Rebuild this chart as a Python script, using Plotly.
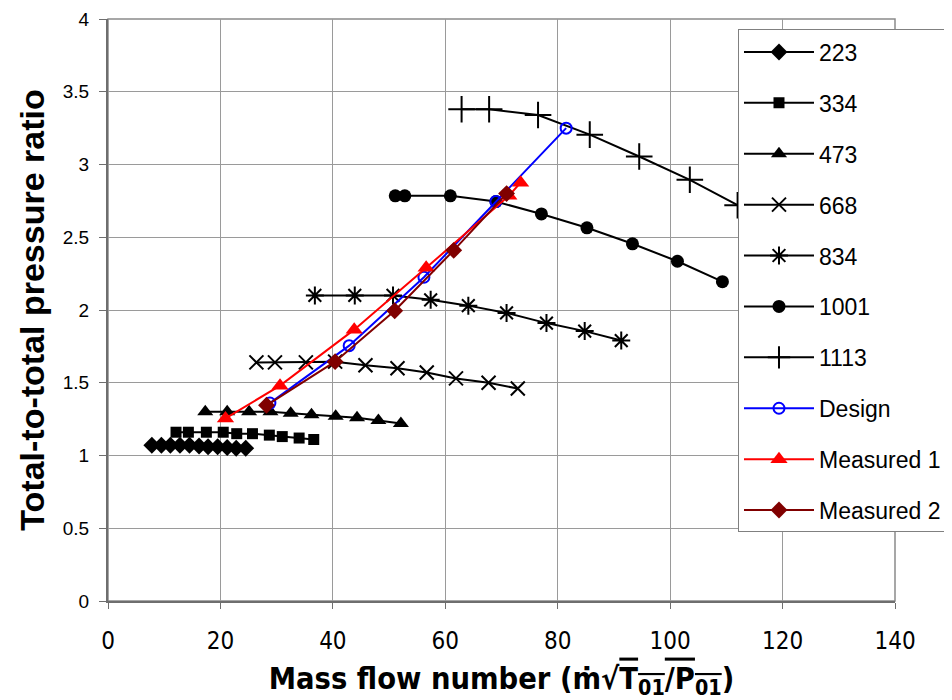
import plotly.graph_objects as go

# ---- data ----
x_223 = [7.8, 9.5, 11.1, 12.8, 14.5, 16.2, 17.8, 19.5, 21.2, 22.8, 24.5]
y_223 = [1.07, 1.07, 1.07, 1.07, 1.07, 1.065, 1.06, 1.06, 1.055, 1.05, 1.05]

x_334 = [12.1, 14.3, 17.5, 20.5, 22.9, 25.7, 28.7, 31.0, 34.0, 36.6]
y_334 = [1.16, 1.16, 1.16, 1.16, 1.15, 1.15, 1.14, 1.13, 1.12, 1.11]

x_473 = [17.3, 21.2, 25.1, 28.9, 32.5, 36.2, 40.5, 44.3, 48.1, 52.1]
y_473 = [1.30, 1.30, 1.30, 1.30, 1.29, 1.28, 1.27, 1.26, 1.24, 1.22]

x_668 = [26.4, 29.7, 35.2, 40.4, 45.8, 51.5, 56.7, 61.9, 67.7, 72.9]
y_668 = [1.64, 1.64, 1.64, 1.645, 1.62, 1.60, 1.57, 1.53, 1.50, 1.46]

x_834 = [36.8, 43.9, 50.7, 57.4, 64.1, 70.9, 78.0, 84.8, 91.3]
y_834 = [2.10, 2.10, 2.10, 2.07, 2.03, 1.98, 1.91, 1.855, 1.79]

x_1001 = [51.1, 52.8, 60.9, 69.0, 77.1, 85.2, 93.3, 101.3, 109.3]
y_1001 = [2.785, 2.785, 2.785, 2.745, 2.66, 2.565, 2.455, 2.335, 2.195]

x_1113 = [62.9, 67.8, 76.5, 85.7, 94.5, 103.5, 112.0]
y_1113 = [3.38, 3.38, 3.34, 3.205, 3.055, 2.895, 2.72]

x_design = [28.8, 42.9, 56.2, 69.0, 81.5]
y_design = [1.36, 1.755, 2.225, 2.745, 3.25]

x_meas1 = [20.9, 30.6, 43.8, 56.6, 71.3, 73.4]
y_meas1 = [1.255, 1.48, 1.865, 2.29, 2.785, 2.875]

x_meas2 = [28.2, 40.4, 51.0, 61.5, 70.9]
y_meas2 = [1.345, 1.645, 1.995, 2.41, 2.80]

x_ticks = [0, 20, 40, 60, 80, 100, 120, 140]
y_ticks = [0, 0.5, 1, 1.5, 2, 2.5, 3, 3.5, 4]
y_tick_text = ["0", "0.5", "1", "1.5", "2", "2.5", "3", "3.5", "4"]

series = [
    ("223", x_223, y_223, "diamond", 13, "black", 0),
    ("334", x_334, y_334, "square", 11, "black", 0),
    ("473", x_473, y_473, "triangle-up", 14, "black", 0),
    ("668", x_668, y_668, "x-thin-open", 14, "black", 2),
    ("834", x_834, y_834, "asterisk-open", 15, "black", 2),
    ("1001", x_1001, y_1001, "circle", 13, "black", 0),
    ("1113", x_1113, y_1113, "cross-thin-open", 19, "black", 2),
    ("Design", x_design, y_design, "circle-open", 11, "#0000FF", 2),
    ("Measured 1", x_meas1, y_meas1, "triangle-up", 15, "#FF0000", 0),
    ("Measured 2", x_meas2, y_meas2, "diamond", 13, "#800000", 0),
]

fig = go.Figure()
for name, xs, ys, sym, size, col, mlw in series:
    fig.add_trace(go.Scatter(
        x=xs, y=ys, name=name, mode="lines+markers",
        legendgroup=name,
        line=dict(color=col, width=2),
        marker=dict(symbol=sym, size=size, color=col,
                    line=dict(color=col, width=mlw)),
    ))

FONT = "Liberation Sans, Arial, sans-serif"
NARROW = "DejaVu Sans Condensed, Liberation Sans Narrow, Liberation Sans, sans-serif"

fig.update_layout(
    width=944, height=692,
    margin=dict(l=100, r=57, t=11, b=98.5, autoexpand=False),
    paper_bgcolor="white", plot_bgcolor="white",
    font=dict(family=FONT, color="black", size=19),
    showlegend=True,
    legend=dict(
        x=0.8005, y=0.982, xanchor="left", yanchor="top",
        bgcolor="white", bordercolor="#808080", borderwidth=1,
        font=dict(family=FONT, size=23, color="black"),
        tracegroupgap=18, itemwidth=70,
    ),
    xaxis=dict(
        range=[0, 140], tickvals=x_ticks, ticktext=[str(v) for v in x_ticks],
        showgrid=True, gridcolor="#9a9a9a", gridwidth=1,
        showline=True, linecolor="#6e6e6e", linewidth=2,
        ticks="outside", ticklen=6, tickcolor="#6e6e6e",
        ticklabelstandoff=11,
        zeroline=False,
        tickfont=dict(family=NARROW, size=24),
        title=dict(
            text="<b>Mass flow number (ṁ√<span style='text-decoration:overline'>T<sub>01</sub>/P<sub>01</sub></span>)</b>",
            font=dict(family=NARROW, size=30.5),
            standoff=14,
        ),
    ),
    yaxis=dict(
        range=[0, 4], tickvals=y_ticks, ticktext=y_tick_text,
        showgrid=True, gridcolor="#9a9a9a", gridwidth=1,
        showline=True, linecolor="#6e6e6e", linewidth=2,
        ticks="outside", ticklen=7, tickcolor="#6e6e6e",
        ticklabelstandoff=6,
        zeroline=False,
        tickfont=dict(family=FONT, size=19),
        title=dict(
            text="<b>Total-to-total pressure ratio</b>",
            font=dict(family=FONT, size=34),
            standoff=8,
        ),
    ),
)

fig.add_shape(type="rect", xref="paper", yref="paper", x0=0, y0=0, x1=1, y1=1,
              line=dict(color="#8a8a8a", width=1.5), layer="below")

fig.write_html("out.html")
